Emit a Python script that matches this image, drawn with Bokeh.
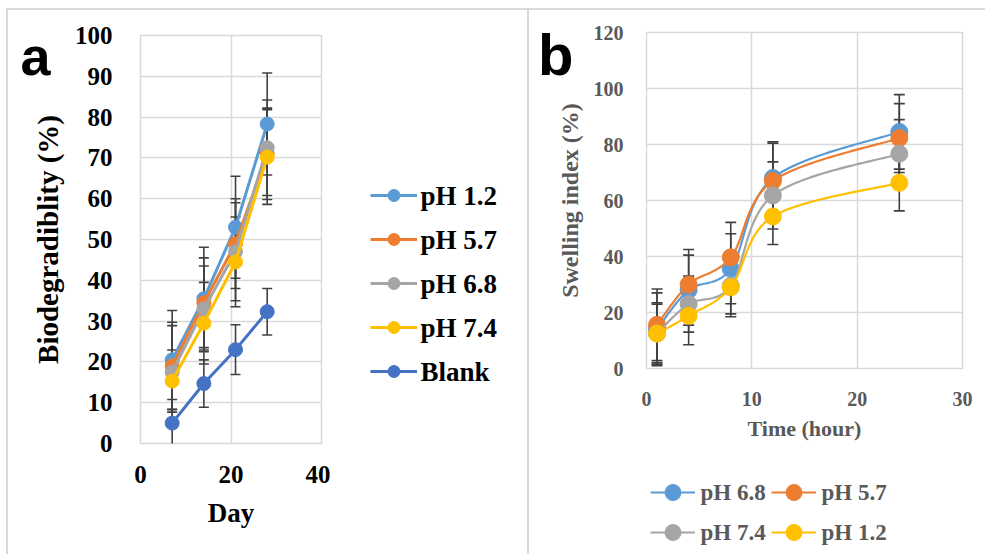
import numpy as np
from bokeh.plotting import figure
from bokeh.models import (ColumnDataSource, Whisker, TeeHead, Legend, LegendItem,
                          Range1d, FixedTicker, LinearAxis)
from bokeh.core.properties import value
from bokeh.layouts import row, column
from bokeh.embed import file_html
from bokeh.resources import INLINE

# ---------------- data: panel a ----------------
days = [7, 14, 21, 28]
a_names = [" pH 1.2", "pH 5.7", "pH 6.8", "pH 7.4", "Blank"]
a_ph12 = [20.5, 35.5, 53.0, 78.3]
a_ph57 = [19.0, 34.5, 49.0, 71.0]
a_ph68 = [17.5, 33.0, 47.0, 72.5]
a_ph74 = [15.3, 29.5, 44.5, 70.2]
a_blank = [5.0, 14.7, 23.0, 32.3]
a_err12 = [12.1, 12.6, 12.5, 12.5]
a_err57 = [10.7, 11.0, 11.0, 11.2]
a_err68 = [11.4, 10.5, 12.0, 11.7]
a_err74 = [7.6, 10.0, 11.0, 11.6]
a_errbl = [5.8, 5.8, 6.1, 5.7]
a_xticks = [0, 20, 40]
a_yticks = [0, 10, 20, 30, 40, 50, 60, 70, 80, 90, 100]

# ---------------- data: panel b ----------------
hours = [1, 4, 8, 12, 24]
b_names = ["pH 6.8", "pH 5.7", "pH 7.4", "pH 1.2"]
b_ph68 = [14.0, 28.0, 35.6, 68.0, 84.5]
b_ph57 = [15.6, 30.0, 39.7, 67.0, 82.3]
b_ph74 = [12.5, 23.0, 29.5, 61.8, 76.7]
b_ph12 = [12.5, 18.8, 29.0, 54.3, 66.3]
b_err68 = [13.0, 12.5, 12.5, 13.0, 13.3]
b_err57 = [12.8, 12.5, 12.5, 13.5, 12.3]
b_err74 = [11.0, 10.0, 10.0, 12.0, 12.2]
b_err12 = [10.5, 10.3, 10.5, 10.0, 10.0]
b_xticks = [0, 10, 20, 30]
b_yticks = [0, 20, 40, 60, 80, 100, 120]

# panel tags ("a", "b") are shown as a one-tick extra axis; tick = vertical spot
TAG_A_POS = 95
TAG_B_POS = 112

C_BLUE = "#5B9BD5"
C_ORANGE = "#ED7D31"
C_GRAY = "#A5A5A5"
C_YELLOW = "#FFC000"
C_DBLUE = "#4472C4"
GRID = "#d9d9d9"
ERR = "#404040"
FONT = "Liberation Serif"

# legend layout (pixels inside the legend figures)
LA_X, LA_BOTTOM, LA_GW, LA_GH, LA_SP, LA_STAND = 40, 168, 47, 30, 14, 3
LB_GW, LB_GH, LB_STAND = 45, 40, 5
LB_COLS = [4, 125]
LB_ROWS = [42, 2]


def style_axes(p, color, size):
    for ax in (p.xaxis, p.yaxis):
        ax.axis_line_color = None
        ax.major_tick_line_color = None
        ax.minor_tick_line_color = None
        ax.major_label_text_font = FONT
        ax.major_label_text_font_style = "bold"
        ax.major_label_text_font_size = size
        ax.major_label_text_color = color
        ax.axis_label_text_font = FONT
        ax.axis_label_text_font_style = "bold"
        ax.axis_label_text_color = color
    p.grid.grid_line_color = GRID
    p.grid.grid_line_width = 1.5
    p.outline_line_color = GRID
    p.outline_line_width = 1.5
    p.border_fill_alpha = 0
    p.background_fill_alpha = 0


def tag_axis(p, pos, text, standoff, size):
    ax = LinearAxis(ticker=FixedTicker(ticks=[pos], minor_ticks=[]),
                    major_label_overrides={pos: text},
                    axis_line_color=None, major_tick_line_color=None,
                    minor_tick_line_color=None, major_label_standoff=standoff,
                    major_label_text_font="Liberation Sans",
                    major_label_text_font_style="bold",
                    major_label_text_font_size=size,
                    major_label_text_color="black")
    p.add_layout(ax, "left")


def add_err(p, xs, ys, es, width=1.6, head=10):
    src = ColumnDataSource(dict(x=xs, lo=[y - e for y, e in zip(ys, es)],
                                hi=[y + e for y, e in zip(ys, es)]))
    w = Whisker(base="x", lower="lo", upper="hi", source=src,
                line_color=ERR, line_width=width,
                lower_head=TeeHead(size=head, line_color=ERR, line_width=width),
                upper_head=TeeHead(size=head, line_color=ERR, line_width=width))
    p.add_layout(w)


def smooth(xs, ys, n=40):
    xs = np.asarray(xs, float)
    ys = np.asarray(ys, float)
    px = np.concatenate([[xs[0]], xs, [xs[-1]]])
    py = np.concatenate([[ys[0]], ys, [ys[-1]]])
    t = np.linspace(0, 1, n)
    ox, oy = [], []
    for i in range(len(xs) - 1):
        x0, y0 = xs[i], ys[i]
        x3, y3 = xs[i + 1], ys[i + 1]
        x1 = x0 + (px[i + 2] - px[i]) / 6.0
        y1 = y0 + (py[i + 2] - py[i]) / 6.0
        x2 = x3 - (px[i + 3] - px[i + 1]) / 6.0
        y2 = y3 - (py[i + 3] - py[i + 1]) / 6.0
        bx = (1 - t) ** 3 * x0 + 3 * (1 - t) ** 2 * t * x1 + 3 * (1 - t) * t ** 2 * x2 + t ** 3 * x3
        by = (1 - t) ** 3 * y0 + 3 * (1 - t) ** 2 * t * y1 + 3 * (1 - t) * t ** 2 * y2 + t ** 3 * y3
        ox.extend(bx.tolist())
        oy.extend(by.tolist())
    return ox, oy


def legend_figure(width, height, left=0, right=0):
    fw = width - left - right
    f = figure(width=width, height=height, output_backend="svg", toolbar_location=None,
               x_axis_location=None, y_axis_location=None,
               x_range=Range1d(0, fw), y_range=Range1d(0, height),
               min_border_left=left, min_border_right=right, min_border_top=0,
               min_border_bottom=0)
    f.grid.visible = False
    f.outline_line_color = None
    f.border_fill_alpha = 0
    f.background_fill_alpha = 0
    return f


# ================= panel a =================
pa = figure(width=330, height=554, output_backend="svg", toolbar_location=None,
            x_range=Range1d(0, 40), y_range=Range1d(0, 100),
            min_border_left=140, min_border_right=9, min_border_top=35,
            min_border_bottom=111)
pa.xaxis.ticker = FixedTicker(ticks=a_xticks)
pa.yaxis.ticker = FixedTicker(ticks=a_yticks)
style_axes(pa, "black", "25px")
pa.xaxis.axis_label = "Day"
pa.yaxis.axis_label = "Biodegradiblity (%)"
pa.xaxis.axis_label_text_font_size = "27px"
pa.yaxis.axis_label_text_font_size = "29px"
pa.xaxis.major_label_standoff = 16
pa.xaxis.axis_label_standoff = 12
pa.yaxis.major_label_standoff = 22
pa.yaxis.axis_label_standoff = 8
tag_axis(pa, TAG_A_POS, "a", -28, "54px")

a_series = [(a_ph12, a_err12, C_BLUE), (a_ph57, a_err57, C_ORANGE),
            (a_ph68, a_err68, C_GRAY), (a_ph74, a_err74, C_YELLOW),
            (a_blank, a_errbl, C_DBLUE)]
for ys, es, c in a_series:
    add_err(pa, days, ys, es)
for ys, es, c in a_series:
    pa.line(days, ys, line_color=c, line_width=3)
    pa.scatter(days, ys, size=14, fill_color=c, line_color=c)

# legend for panel a (its own frame so nothing is clipped)
pla = legend_figure(199, 554)
a_items = []
for name, (ys, es, c) in zip(a_names, a_series):
    lr = pla.line(days, ys, line_color=c, line_width=3, visible=False)
    sr = pla.scatter(days, ys, size=14, fill_color=c, line_color=c, visible=False)
    a_items.append(LegendItem(label=" ", renderers=[lr, sr]))
pla.add_layout(Legend(items=a_items, location=(LA_X, LA_BOTTOM), orientation="vertical",
                      glyph_width=LA_GW, glyph_height=LA_GH, label_height=LA_GH,
                      label_standoff=LA_STAND, spacing=LA_SP, padding=0, margin=0,
                      border_line_color=None, background_fill_alpha=0,
                      inactive_fill_alpha=0, label_text_font_size="10px"))
n_a = len(a_names)
la_top = LA_BOTTOM + n_a * LA_GH + (n_a - 1) * LA_SP
la_y = [la_top - LA_GH / 2 - i * (LA_GH + LA_SP) for i in range(n_a)]
la_x = [LA_X + LA_GW + LA_STAND] * n_a
pla.text(x=la_x, y=la_y, text=a_names, text_font=value(FONT),
         text_font_style="bold", text_font_size="27px", text_color="black",
         text_baseline="middle", text_align="left")

# ================= panel b =================
pb = figure(width=456, height=456, output_backend="svg", toolbar_location=None,
            x_range=Range1d(0, 30), y_range=Range1d(0, 120),
            min_border_left=117, min_border_right=23, min_border_top=32,
            min_border_bottom=88)
pb.xaxis.ticker = FixedTicker(ticks=b_xticks)
pb.yaxis.ticker = FixedTicker(ticks=b_yticks)
style_axes(pb, "#595959", "20px")
pb.xaxis.axis_label = "Time (hour)"
pb.yaxis.axis_label = "Swelling index (%)"
pb.xaxis.axis_label_text_font_size = "22px"
pb.yaxis.axis_label_text_font_size = "24px"
pb.xaxis.major_label_standoff = 17
pb.xaxis.axis_label_standoff = 7
pb.yaxis.major_label_standoff = 17
pb.yaxis.axis_label_standoff = 8
tag_axis(pb, TAG_B_POS, "b", -26, "58px")

b_series = [(b_ph68, b_err68, C_BLUE), (b_ph57, b_err57, C_ORANGE),
            (b_ph74, b_err74, C_GRAY), (b_ph12, b_err12, C_YELLOW)]
for ys, es, c in b_series:
    add_err(pb, hours, ys, es, width=1.6, head=11)
for ys, es, c in b_series:
    sx, sy = smooth(hours, ys)
    pb.line(sx, sy, line_color=c, line_width=2.2)
    pb.scatter(hours, ys, size=17, fill_color=c, line_color=c)

# legend for panel b, below the plot (2 x 2 grid)
plb = legend_figure(456, 98, left=117, right=23)
lb_x, lb_y = [], []
for i, (name, (ys, es, c)) in enumerate(zip(b_names, b_series)):
    lr = plb.line(hours, ys, line_color=c, line_width=2.2, visible=False)
    sr = plb.scatter(hours, ys, size=17, fill_color=c, line_color=c, visible=False)
    cx = LB_COLS[i % 2]
    ry = LB_ROWS[i // 2]
    plb.add_layout(Legend(items=[LegendItem(label=" ", renderers=[lr, sr])],
                          location=(cx, ry), orientation="horizontal",
                          glyph_width=LB_GW, glyph_height=LB_GH, label_height=LB_GH,
                          label_standoff=LB_STAND, padding=0, margin=0,
                          border_line_color=None, background_fill_alpha=0,
                          inactive_fill_alpha=0, label_text_font_size="10px"))
    lb_x.append(cx + LB_GW + LB_STAND)
    lb_y.append(ry + LB_GH / 2)
plb.text(x=lb_x, y=lb_y, text=b_names, text_font=value(FONT),
         text_font_style="bold", text_font_size="23px", text_color="#595959",
         text_baseline="middle", text_align="left")

G = "linear-gradient(#d9d9d9,#d9d9d9)"
style_a = {"background": (f"{G} 6px 8px / 2px 100% no-repeat, "
                          f"{G} 6px 8px / 100% 2px no-repeat, "
                          f"{G} right 0px top 8px / 2px 100% no-repeat")}
style_b = {"background": f"{G} 0px 8px / 100% 2px no-repeat"}

panel_a = row(column(pa), column(pla), styles=style_a)
panel_b = column(pb, plb, styles=style_b)
layout = row(panel_a, panel_b)
open("out.html", "w").write(file_html(layout, INLINE))
